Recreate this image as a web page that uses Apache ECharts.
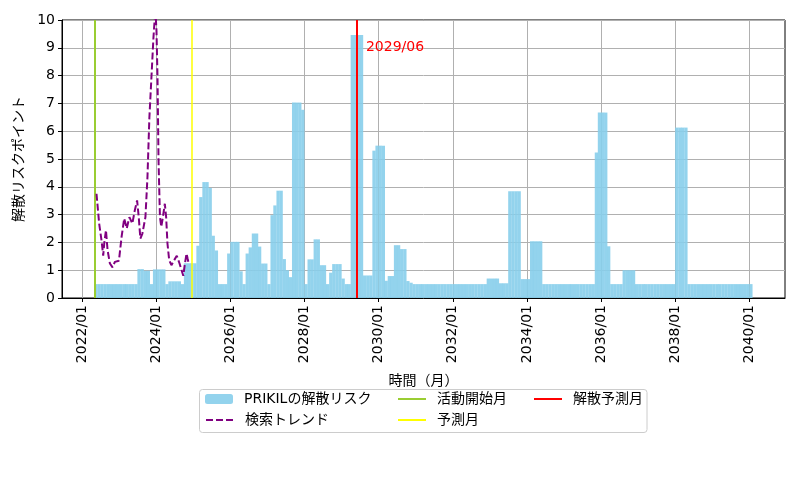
<!DOCTYPE html>
<html><head><meta charset="utf-8">
<script src="https://cdn.jsdelivr.net/npm/echarts@6/dist/echarts.min.js"></script>
<style>html,body{margin:0;padding:0;background:#fff}#c{width:800px;height:500px}</style>
</head><body><div id="c"></div>
<script>
// ---------- data ----------
const riskStart = [2022, 5]; // first month of the risk series (year, month)
const riskValues = [
  0.5,0.5,0.5,0.5,0.5,0.5,0.5,0.5,                              // 2022 May-Dec
  0.5,0.5,0.5,0.5,0.5,0.5,1.04,1.04,0.98,0.98,0.5,1.03,         // 2023
  1.03,1.03,1.03,0.5,0.6,0.6,0.6,0.6,0.5,1.25,1.25,1.25,        // 2024
  1.25,1.88,3.63,4.17,4.17,3.96,2.24,1.71,0.5,0.5,0.5,1.6,      // 2025
  2.02,2.02,2.02,0.96,0.5,1.6,1.82,2.32,2.32,1.85,1.24,1.24,    // 2026
  0.5,2.98,3.33,3.86,3.86,1.4,1.0,0.75,7.03,7.03,7.03,6.77,     // 2027
  0.5,1.39,1.39,2.11,2.11,1.18,1.18,0.5,0.91,1.22,1.22,1.22,    // 2028
  0.7,0.5,0.5,9.46,9.46,9.46,9.46,0.81,0.81,0.81,5.3,5.48,      // 2029
  5.48,5.48,0.62,0.79,0.79,1.9,1.9,1.76,1.76,0.61,0.55,0.5,     // 2030
  0.5,0.5,0.5,0.5,0.5,0.5,0.5,0.5,0.5,0.5,0.5,0.5,              // 2031
  0.5,0.5,0.5,0.5,0.5,0.5,0.5,0.5,0.5,0.5,0.5,0.7,              // 2032
  0.7,0.7,0.7,0.53,0.53,0.53,3.84,3.84,3.84,3.84,0.68,0.68,     // 2033
  0.68,2.04,2.04,2.04,2.04,0.5,0.5,0.5,0.5,0.5,0.5,0.5,         // 2034
  0.5,0.5,0.5,0.5,0.5,0.5,0.5,0.5,0.5,0.5,5.23,6.67,            // 2035
  6.67,6.67,1.86,0.5,0.5,0.5,0.5,1.0,1.0,1.0,1.0,0.5,           // 2036
  0.5,0.5,0.5,0.5,0.5,0.5,0.5,0.5,0.5,0.5,0.5,0.5,              // 2037
  6.13,6.13,6.13,6.13,0.5,0.5,0.5,0.5,0.5,0.5,0.5,0.5,          // 2038
  0.5,0.5,0.5,0.5,0.5,0.5,0.5,0.5,0.5,0.5,0.5,0.5,              // 2039
  0.5                                                           // 2040 Jan
];
const trendDates = ['2022-05-23','2022-06-18','2022-07-11','2022-07-28','2022-08-07','2022-08-24','2022-09-09','2022-10-02','2022-10-28','2022-11-20','2022-12-30','2023-01-25','2023-02-20','2023-03-17','2023-04-12','2023-05-11','2023-06-04','2023-06-27','2023-07-13','2023-07-29','2023-08-18','2023-09-17','2023-10-07','2023-10-26','2023-11-15','2023-12-05','2023-12-24','2024-01-04','2024-01-14','2024-01-24','2024-02-07','2024-02-20','2024-03-07','2024-03-26','2024-04-08','2024-04-21','2024-05-08','2024-05-30','2024-06-26','2024-07-22','2024-08-18','2024-09-07','2024-09-24','2024-10-10','2024-10-26','2024-11-05','2024-11-19'];
const trendValues = [3.75,2.68,2.08,1.52,1.96,2.44,1.72,1.24,1.1,1.3,1.34,2.2,2.86,2.5,2.91,2.68,3.15,3.51,2.91,2.14,2.32,2.91,4.35,6.5,7.93,9.37,10.4,9.6,7.93,4.95,2.91,2.56,2.91,3.39,2.91,1.96,1.36,1.18,1.36,1.52,1.24,1.0,0.8,1.24,1.6,1.43,1.2];
const startMonth = '2022-05-01';
const predictMonth = '2024-12-15';
const dissolveMonth = '2029-06-01';
const dissolveLabel = '2029/06';
const xTickLabels = ['2022/01','2024/01','2026/01','2028/01','2030/01','2032/01','2034/01','2036/01','2038/01','2040/01'];
const yTicks = [0,1,2,3,4,5,6,7,8,9,10];
const seriesNames = ['PRIKILの解散リスク','検索トレンド','活動開始月','予測月','解散予測月'];

// ---------- build ----------
const FONT = '"DejaVu Sans", "Noto Sans CJK JP", sans-serif';
const ts = s => Date.parse(s + 'T00:00:00Z');
const tickTs = xTickLabels.map(l => Date.UTC(+l.slice(0,4), +l.slice(5,7) - 1, 1));
// bars span their month: place each at mid-month
const riskData = riskValues.map((v, i) => [Date.UTC(riskStart[0], riskStart[1] - 1 + i, 16), v]);
const trendData = trendDates.map((d, i) => [ts(d), trendValues[i]]);

const chart = echarts.init(document.getElementById('c'));
const txt = {fontFamily: FONT, fontSize: 14, color: '#000'};
function vline(name, date, color, width, extra) {
  return Object.assign({
    name, type: 'line', data: [], symbol: 'none', z: 5,
    itemStyle: {color}, lineStyle: {color, width},
    markLine: {silent: true, symbol: 'none', animation: false, label: {show: false},
      lineStyle: {color, width, type: 'solid', opacity: 1}, data: [{xAxis: ts(date)}]}
  }, extra || {});
}
function legendAt(name, left, top, isLine) {
  const l = {data: [name], left, top, padding: 0, itemWidth: 28, itemHeight: 10,
    textStyle: Object.assign({}, txt, {padding: [0, 0, 0, 6]}), selectedMode: false};
  if (isLine) l.itemStyle = {opacity: 0};
  return l;
}
chart.setOption({
  animation: false,
  textStyle: {fontFamily: FONT},
  grid: {left: 62, right: 15, top: 20, bottom: 202, show: true, borderColor: '#000', borderWidth: 1, backgroundColor: 'transparent'},
  xAxis: {
    type: 'value', min: Date.UTC(2021, 5, 17), max: Date.UTC(2040, 11, 17), scale: true,
    axisLine: {show: true, onZero: false, lineStyle: {color: '#000', width: 1}},
    axisTick: {show: true, length: 4, customValues: tickTs, lineStyle: {color: '#000'}},
    axisLabel: Object.assign({}, txt, {customValues: tickTs, rotate: 90, margin: 7, hideOverlap: false,
      formatter: v => { const i = tickTs.indexOf(v); return i >= 0 ? xTickLabels[i] : ''; }}),
    splitLine: {show: true, lineStyle: {color: '#b0b0b0', width: 1}},
    name: '時間（月）', nameLocation: 'middle', nameGap: 76, nameTextStyle: txt
  },
  yAxis: {
    type: 'value', min: yTicks[0], max: yTicks[yTicks.length - 1], interval: 1,
    axisLine: {show: true, lineStyle: {color: '#000', width: 1}},
    axisTick: {show: true, length: 4, lineStyle: {color: '#000'}},
    axisLabel: Object.assign({}, txt, {margin: 7}),
    splitLine: {show: true, lineStyle: {color: '#b0b0b0', width: 1}},
    name: '解散リスクポイント', nameLocation: 'middle', nameRotate: 90, nameGap: 33, nameTextStyle: txt
  },
  legend: [
    legendAt(seriesNames[0], 205, 392, false),
    legendAt(seriesNames[1], 205, 413, true),
    legendAt(seriesNames[2], 397, 392, true),
    legendAt(seriesNames[3], 397, 413, true),
    legendAt(seriesNames[4], 533, 392, true)
  ],
  graphic: [{type: 'rect', z: -1, shape: {x: 199.5, y: 389.5, width: 447.5, height: 43, r: 3},
    style: {fill: 'rgba(255,255,255,0.8)', stroke: '#cccccc', lineWidth: 1}}],
  series: [
    {name: seriesNames[0], type: 'bar', data: riskData, barWidth: 3.3, legendIcon: 'rect',
      itemStyle: {color: '#87ceeb', opacity: 0.9}, z: 2},
    {name: seriesNames[1], type: 'line', data: trendData, symbol: 'none', z: 6, clip: true,
      itemStyle: {color: '#800080'}, lineStyle: {color: '#800080', width: 2, type: [7, 3]}},
    vline(seriesNames[2], startMonth, '#9acd32', 2),
    vline(seriesNames[3], predictMonth, '#ffff00', 1.5),
    vline(seriesNames[4], dissolveMonth, '#ff0000', 2, {
      markPoint: {silent: true, animation: false, symbol: 'circle', symbolSize: 0,
        label: {show: true, position: 'right', distance: 9, formatter: dissolveLabel,
          color: '#ff0000', fontFamily: FONT, fontSize: 14},
        data: [{coord: [ts(dissolveMonth), 9.0]}]}
    })
  ]
});
</script></body></html>
